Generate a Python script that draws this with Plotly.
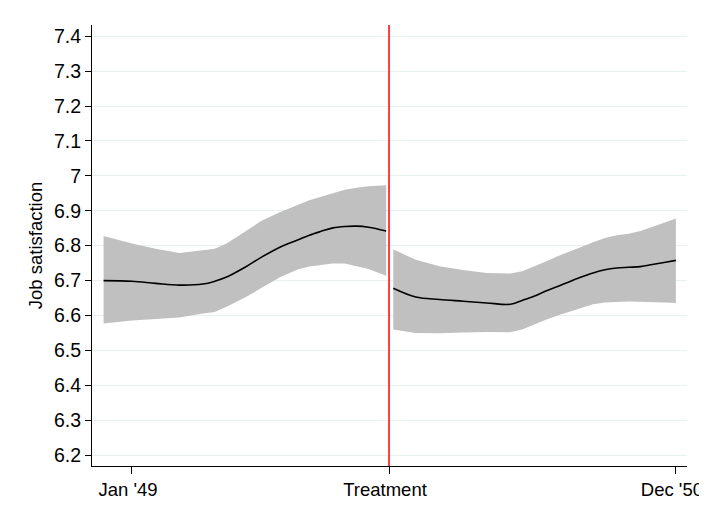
import plotly.graph_objects as go

# x in months since Jan '49
jan49 = 0.0
treatment = 10.87
dec50 = 23.0

# before treatment
pre_x = [-1.2, 0.0, 1.0, 2.0, 3.0, 3.5, 4.0, 4.8, 5.5, 6.3, 7.0, 7.5, 8.0, 8.5, 9.0, 9.5, 10.0, 10.75]
pre_mean = [6.700, 6.698, 6.692, 6.687, 6.690, 6.698, 6.710, 6.739, 6.768, 6.797, 6.816, 6.830,
            6.841, 6.851, 6.855, 6.856, 6.853, 6.842]
pre_upper = [6.828, 6.806, 6.791, 6.779, 6.787, 6.791, 6.806, 6.840, 6.872, 6.897, 6.915, 6.930,
             6.940, 6.951, 6.960, 6.966, 6.970, 6.973]
pre_lower = [6.577, 6.586, 6.590, 6.594, 6.606, 6.610, 6.625, 6.652, 6.680, 6.711, 6.732, 6.740,
             6.745, 6.749, 6.749, 6.741, 6.733, 6.714]

# after treatment
post_x = [11.05, 12.0, 13.0, 14.0, 15.0, 16.0, 16.5, 17.0, 17.5, 18.0, 18.5, 19.0, 19.5, 20.0,
          20.5, 21.0, 21.5, 22.0, 22.5, 23.0]
post_mean = [6.678, 6.653, 6.646, 6.641, 6.636, 6.632, 6.643, 6.655, 6.670, 6.683, 6.697, 6.710,
             6.722, 6.731, 6.736, 6.738, 6.740, 6.746, 6.752, 6.758]
post_upper = [6.789, 6.760, 6.741, 6.730, 6.722, 6.720, 6.727, 6.740, 6.755, 6.770, 6.782, 6.796,
              6.810, 6.822, 6.830, 6.834, 6.842, 6.855, 6.866, 6.878]
post_lower = [6.560, 6.550, 6.549, 6.551, 6.553, 6.552, 6.560, 6.573, 6.588, 6.600, 6.611, 6.622,
              6.632, 6.637, 6.639, 6.640, 6.640, 6.638, 6.637, 6.636]

y_ticks = [6.2, 6.3, 6.4, 6.5, 6.6, 6.7, 6.8, 6.9, 7.0, 7.1, 7.2, 7.3, 7.4]
y_ticktext = ["6.2", "6.3", "6.4", "6.5", "6.6", "6.7", "6.8", "6.9", "7", "7.1", "7.2", "7.3", "7.4"]
x_ticks = [jan49, treatment, dec50]
x_ticktext = ["Jan '49", "Treatment", "Dec '50"]

band_color = "rgb(192,192,192)"
font = "Liberation Sans, Arial, sans-serif"

fig = go.Figure()

for xs, lo, hi in [(pre_x, pre_lower, pre_upper), (post_x, post_lower, post_upper)]:
    fig.add_trace(go.Scatter(
        x=xs + xs[::-1], y=hi + lo[::-1],
        fill="toself", fillcolor=band_color,
        line=dict(width=0), mode="lines",
        hoverinfo="skip", showlegend=False))

for xs, ys in [(pre_x, pre_mean), (post_x, post_mean)]:
    fig.add_trace(go.Scatter(
        x=xs, y=ys, mode="lines",
        line=dict(color="black", width=1.6, shape="spline"),
        showlegend=False))

fig.add_vline(x=treatment, line=dict(color="#ff0000", width=1.5))

# page body has an 8px margin, so plot area offsets compensate
fig.update_layout(
    width=707, height=515,
    margin=dict(l=84, r=28, t=17, b=57),
    paper_bgcolor="white", plot_bgcolor="white",
    font=dict(family=font, color="black"),
    xaxis=dict(
        range=[-1.69, 23.47],
        tickvals=x_ticks, ticktext=x_ticktext,
        showgrid=False, zeroline=False,
        showline=True, linecolor="black", linewidth=1,
        ticks="outside", ticklen=7, tickcolor="black",
        tickfont=dict(size=18.5),
        ticklabelshift=-4,
        automargin=False,
    ),
    yaxis=dict(
        range=[6.169, 7.432],
        tickvals=y_ticks, ticktext=y_ticktext,
        showgrid=True, gridcolor="#e8f0f2", gridwidth=1,
        zeroline=False,
        showline=True, linecolor="black", linewidth=1,
        ticks="outside", ticklen=6, tickcolor="black",
        tickfont=dict(size=19.5),
        title=dict(text="Job satisfaction", font=dict(size=18.5), standoff=6),
        automargin=False,
    ),
)

fig.write_html("out.html")
